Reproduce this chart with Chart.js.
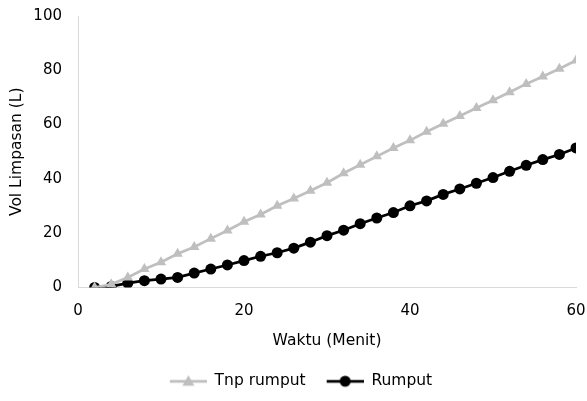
<!DOCTYPE html>
<html>
<head>
<meta charset="utf-8">
<script src="https://cdn.jsdelivr.net/npm/chart.js@4"></script>
<style>
  html, body { margin: 0; padding: 0; background: #fff; }
  #wrap { width: 587px; height: 401px; position: relative; }
</style>
</head>
<body>
<div id="wrap"><canvas id="myChart" width="587" height="401"></canvas></div>
<script>
	// waktu (menit)
	var minutes = [2, 4, 6, 8, 10, 12, 14, 16, 18, 20, 22, 24, 26, 28, 30, 32, 34, 36, 38, 40, 42, 44, 46, 48, 50, 52, 54, 56, 58, 60];
	// volume limpasan tanpa rumput (L)
	var tnpRumput = [0, 1.2, 3.7, 6.8, 9.3, 12.4, 14.9, 18.0, 21.0, 24.2, 26.9, 30.1, 32.8, 35.6, 38.6, 42.1, 45.2, 48.3, 51.4, 54.2, 57.4, 60.3, 63.2, 66.1, 69.0, 71.9, 75.0, 77.7, 80.6, 83.6];
	// volume limpasan dengan rumput (L)
	var rumput = [0, 0.4, 1.6, 2.5, 3.1, 3.7, 5.3, 6.8, 8.3, 9.9, 11.5, 12.8, 14.5, 16.7, 19.1, 21.1, 23.5, 25.6, 27.6, 30.1, 31.9, 34.3, 36.3, 38.4, 40.5, 42.8, 45.0, 47.1, 49.0, 51.4];
	var xTicks = [0, 20, 40, 60];
	var yTicks = [0, 20, 40, 60, 80, 100];

	var seriesNames = ['Tnp rumput', 'Rumput'];
	var FONT = 'DejaVu Sans';
	var TICK_SIZE = 15;
	var TEXT_SIZE = 15.5;

	function toPoints(vals){
		return minutes.map((m, i) => ({ x: m, y: vals[i] }));
	}

	// ikon legenda: garis + marker (ada ruang kosong di kiri sebagai jarak antar item)
	function legendIcon(color, style){
		let c = document.createElement('canvas');
		c.width = 48; c.height = 14;
		let g = c.getContext('2d');
		g.strokeStyle = color; g.lineWidth = 2.75;
		g.beginPath(); g.moveTo(11, 7); g.lineTo(48, 7); g.stroke();
		g.fillStyle = color;
		g.beginPath();
		if(style == 'triangle'){
			g.moveTo(29.5, 1); g.lineTo(35.5, 11.5); g.lineTo(23.5, 11.5); g.closePath();
		} else {
			g.arc(29.5, 7, 5.5, 0, Math.PI * 2);
		}
		g.fill();
		return c;
	}
	var icons = [legendIcon('#bfbfbf', 'triangle'), legendIcon('#000000', 'circle')];

	var data = {
		datasets: [{
			label: seriesNames[0],
			data: toPoints(tnpRumput),
			borderColor: '#bfbfbf',
			backgroundColor: '#bfbfbf',
			borderWidth: 2.75,
			pointStyle: 'triangle',
			pointRadius: 6,
			pointBorderWidth: 0
		}, {
			label: seriesNames[1],
			data: toPoints(rumput),
			borderColor: '#000000',
			backgroundColor: '#000000',
			borderWidth: 2.75,
			pointStyle: 'circle',
			pointRadius: 5.5,
			pointBorderWidth: 0
		}]
	};

	var options = {
		responsive: false,
		animation: false,
		layout: { padding: { left: 4, right: 0, top: 0, bottom: 2 } },
		plugins: {
			tooltip: { enabled: false },
			legend: {
				position: 'bottom',
				labels: {
					usePointStyle: true,
					pointStyleWidth: 48,
					color: '#000',
					font: { family: FONT, size: TEXT_SIZE },
					padding: 10,
					generateLabels: function(chart){
						return chart.data.datasets.map((ds, i) => ({
							text: ds.label,
							pointStyle: icons[i],
							fillStyle: ds.backgroundColor,
							strokeStyle: ds.borderColor,
							lineWidth: 0,
							datasetIndex: i,
							fontColor: '#000'
						}));
					}
				}
			}
		},
		scales: {
			x: {
				type: 'linear',
				min: 0, max: 60,
				afterBuildTicks: function(axis){ axis.ticks = xTicks.map(v => ({ value: v })); },
				afterFit: function(axis){ axis.paddingRight = 11; axis.paddingLeft = 0; axis.height = 76; },
				grid: { display: false, drawTicks: false },
				border: { color: '#d9d9d9', width: 1 },
				ticks: { color: '#000', padding: 15, font: { family: FONT, size: TICK_SIZE } },
				title: { display: true, text: 'Waktu (Menit)', color: '#000', font: { family: FONT, size: TEXT_SIZE }, padding: { top: 0, bottom: 13 } }
			},
			y: {
				min: 0, max: 100,
				afterBuildTicks: function(axis){ axis.ticks = yTicks.map(v => ({ value: v })); },
				afterFit: function(axis){ axis.paddingTop = 16; axis.paddingBottom = 0; axis.width = 74; },
				grid: { display: false, drawTicks: false },
				border: { color: '#d9d9d9', width: 1 },
				ticks: { color: '#000', padding: 16, font: { family: FONT, size: TICK_SIZE } },
				title: { display: true, text: 'Vol Limpasan (L)', color: '#000', font: { family: FONT, size: TEXT_SIZE }, padding: { top: 4, bottom: 0 } }
			}
		}
	};

	var ctx = document.getElementById('myChart').getContext('2d');
	var myChart = new Chart(ctx, {
		type: 'line',
		data: data,
		options: options
	});
</script>
</body>
</html>
